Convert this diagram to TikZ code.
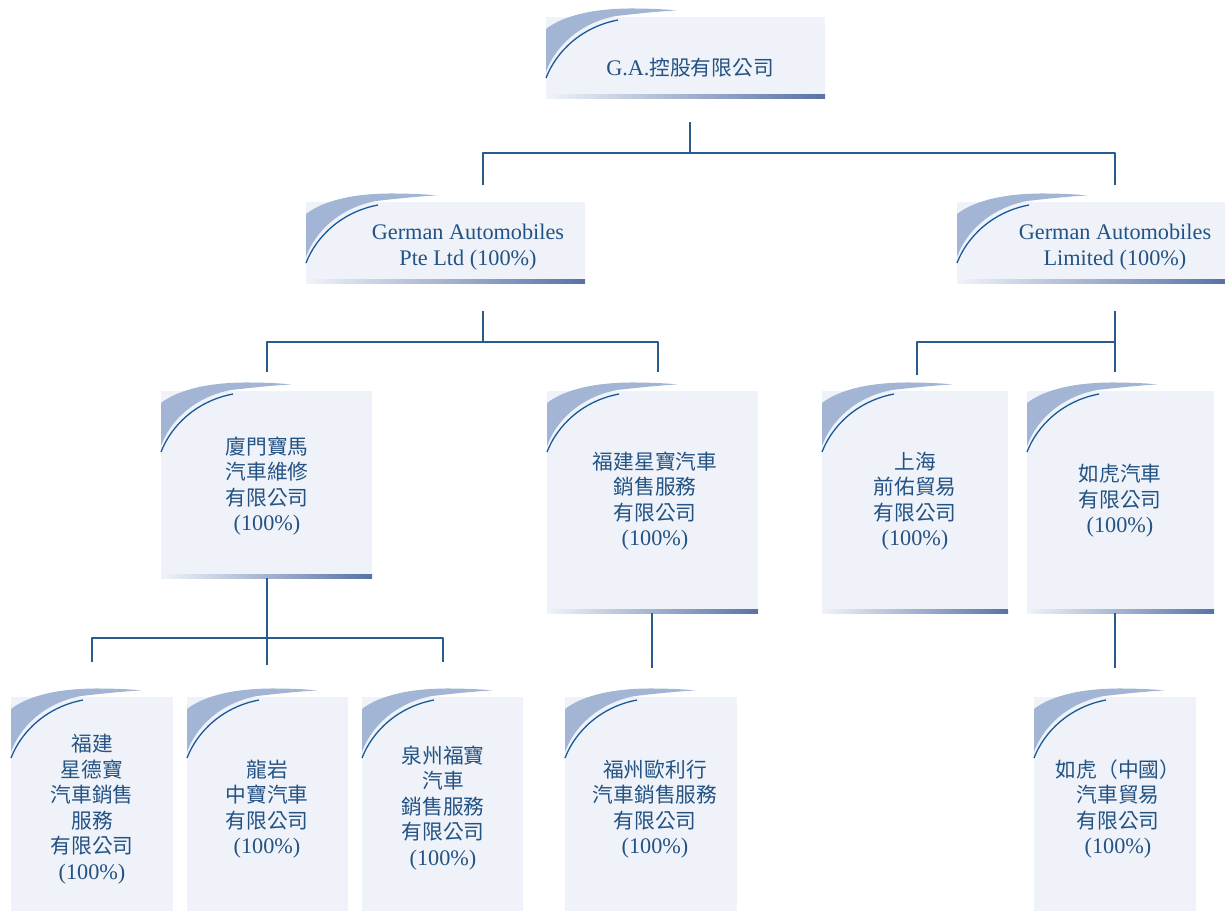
\documentclass[tikz,border=0pt]{standalone}
\usepackage{fontspec}
\setmainfont{Liberation Serif}
\newfontfamily\cjk[Scale=0.93]{Noto Sans CJK TC}
\usetikzlibrary{calc,fit}
\definecolor{boxfill}{RGB}{239,243,249}
\definecolor{swooshfill}{RGB}{163,181,212}
\definecolor{swooshdark}{RGB}{22,88,152}
\definecolor{stripdark}{RGB}{88,114,166}
\definecolor{linkcol}{RGB}{40,92,142}
\definecolor{textcol}{RGB}{35,82,132}
\newcommand{\deco}[1]{%
  \begin{scope}[shift={(#1.north west)}]
    \fill[swooshfill] (0,12) .. controls (18,-2) and (50,-9) .. (90,-8.5) .. controls (110,-8.3) and (122,-7.5) .. (130,-6.5) .. controls (110,-5.5) and (88,-3) .. (70,-1) .. controls (33,6) and (9,30) .. (0,55) -- cycle;
    \draw[swooshdark, line width=1.1pt] (0,61) .. controls (10,35) and (35,10) .. (72,3);
  \end{scope}}
\newcommand{\strip}[1]{%
  \shade[left color=boxfill, right color=stripdark] ($(#1.south west)+(0,-4)$) rectangle (#1.south east);}
\newcommand{\pct}{{\rmfamily(100\%)}}
\begin{document}
\begin{tikzpicture}[x=0.03cm, y=-0.03cm, line join=round,
    orgbox/.style={fill=boxfill, inner sep=0pt, outer sep=0pt},
    latin/.style={text=textcol, align=center, font=\fontsize{19}{21.8}\selectfont},
    hanzi/.style={text=textcol, align=center, font=\fontsize{19}{21.8}\selectfont\cjk},
    link/.style={draw=linkcol, line width=1.3pt}]
\useasboundingbox (0,0) rectangle (1225,911);

\node[orgbox, fit={(546,17) (825,98)}] (hq) {};
\node[orgbox, fit={(306,202) (585,283)}] (pte) {};
\node[orgbox, fit={(957,202) (1225,283)}] (lim) {};
\node[orgbox, fit={(161,391) (372,578)}] (xm) {};
\node[orgbox, fit={(547,391) (758,613)}] (fjxb) {};
\node[orgbox, fit={(822,391) (1008,613)}] (sh) {};
\node[orgbox, fit={(1027,391) (1214,613)}] (rh) {};
\node[orgbox, fit={(11,697) (173,911)}] (fjxd) {};
\node[orgbox, fit={(187,697) (348,911)}] (ly) {};
\node[orgbox, fit={(362,697) (523,911)}] (qz) {};
\node[orgbox, fit={(565,697) (737,911)}] (fz) {};
\node[orgbox, fit={(1034,697) (1196,911)}] (rhc) {};
\foreach \b in {hq,pte,lim,xm,fjxb,sh,rh,fjxd,ly,qz,fz,rhc} {\deco{\b}}
\foreach \b in {hq,pte,lim,xm,fjxb,sh,rh} {\strip{\b}}

\node[latin] (hqt) at (690,68) {G.A.{\cjk 控股有限公司}};
\node[latin] (ptet) at (468,247) {German Automobiles\\Pte Ltd (100\%)};
\node[latin] (limt) at (1115,247) {German Automobiles\\Limited (100\%)};
\node[hanzi] (xmt) at (267,486) {廈門寶馬\\汽車維修\\有限公司\\\pct};
\node[hanzi] (fjxbt) at (655,501) {福建星寶汽車\\銷售服務\\有限公司\\\pct};
\node[hanzi] (sht) at (915,501) {上海\\前佑貿易\\有限公司\\\pct};
\node[hanzi] (rht) at (1120,501) {如虎汽車\\有限公司\\\pct};
\node[hanzi] (fjxdt) at (92,809) {福建\\星德寶\\汽車銷售\\服務\\有限公司\\\pct};
\node[hanzi] (lyt) at (267,809) {龍岩\\中寶汽車\\有限公司\\\pct};
\node[hanzi] (qzt) at (443,808) {泉州福寶\\汽車\\銷售服務\\有限公司\\\pct};
\node[hanzi] (fzt) at (655,809) {福州歐利行\\汽車銷售服務\\有限公司\\\pct};
\node[hanzi] (rhct) at (1118,809) {如虎（中國）\\汽車貿易\\有限公司\\\pct};

\coordinate (j0) at (690,153);
\coordinate (j1) at (483,342);
\coordinate (j2) at (1115,342);
\coordinate (j3) at (267,638);
\draw[link] ($(hq.south)+(4.5,24)$) -- (j0);
\draw[link] ($(pte.north)+(37.5,-17)$) |- (j0) -| ($(lim.north)+(24,-17)$);
\draw[link] ($(pte.south)+(37.5,28)$) -- (j1);
\draw[link] ($(xm.north)+(0.5,-19)$) |- (j1) -| ($(fjxb.north)+(5.5,-19)$);
\draw[link] ($(lim.south)+(24,28)$) -- ($(rh.north)+(-5.5,-19)$);
\draw[link] ($(sh.north)+(2,-16)$) |- (j2);
\draw[link] ($(xm.south)+(0.5,0)$) -- ($(ly.north)+(-0.5,-32)$);
\draw[link] ($(fjxd.north)+(0,-35)$) |- (j3) -| ($(qz.north)+(0.5,-35)$);
\draw[link] ($(fjxb.south)+(-0.5,0)$) -- ($(fz.north)+(1,-29)$);
\draw[link] ($(rh.south)+(-5.5,0)$) -- ($(rhc.north)+(0,-29)$);
\end{tikzpicture}
\end{document}
